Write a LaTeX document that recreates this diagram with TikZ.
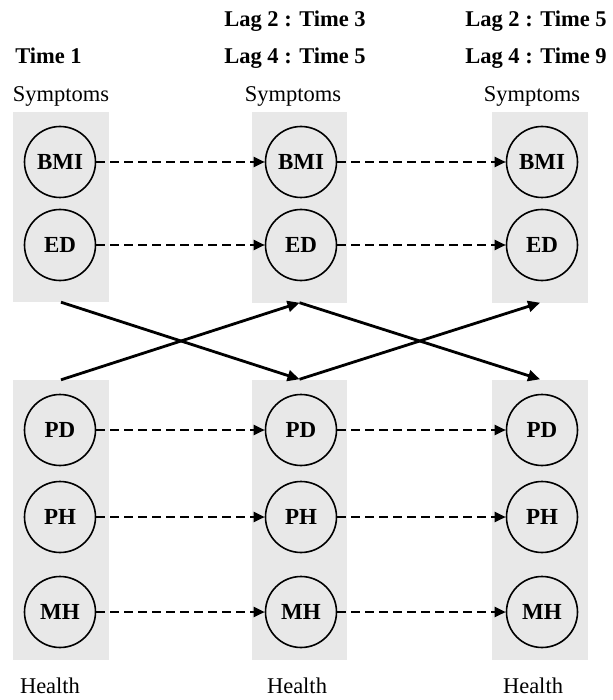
\documentclass[tikz,border=0pt]{standalone}
\usepackage{fontspec}
\setmainfont{Liberation Serif}
\usetikzlibrary{arrows.meta}
\begin{document}
\begin{tikzpicture}[x=1pt,y=1pt,
  greybox/.style={fill=black!9,draw=none,inner sep=0pt},
  var/.style={circle,draw=black,line width=1.6pt,minimum size=71pt,inner sep=0pt,font=\fontsize{23}{24}\selectfont\bfseries},
  head/.style={anchor=base,inner sep=0pt,font=\fontsize{22.5}{24}\selectfont\bfseries},
  lab/.style={anchor=base,inner sep=0pt,font=\fontsize{22.5}{24}\selectfont},
  lagarrow/.style={line width=2.3pt,dash pattern=on 9pt off 5pt,-{Triangle[length=11pt,width=10pt]}},
  crossarrow/.style={line width=2.8pt,-{Triangle[length=12pt,width=11pt]}}]
\useasboundingbox (0,0) rectangle (612,-700);
% boxes
\node[greybox,minimum width=96pt,minimum height=190pt] (s1) at (61,-207) {};
\node[greybox,minimum width=95pt,minimum height=190pt] (s2) at (299.5,-207.5) {};
\node[greybox,minimum width=96pt,minimum height=190pt] (s3) at (540,-207.5) {};
\node[greybox,minimum width=96pt,minimum height=280pt] (h1) at (61,-520) {};
\node[greybox,minimum width=95pt,minimum height=280pt] (h2) at (299.5,-519.5) {};
\node[greybox,minimum width=96pt,minimum height=280pt] (h3) at (540,-519.5) {};
% headings
\node[head] (t1) at (48.5,-64) {Time 1};
\node[head] (t2a) at (295,-27) {Lag 2 : Time 3};
\node[head] (t2b) at (295,-64) {Lag 4 : Time 5};
\node[head] (t3a) at (536,-27) {Lag 2 : Time 5};
\node[head] (t3b) at (536,-64) {Lag 4 : Time 9};
\node[lab] (sy1) at (61,-102) {Symptoms};
\node[lab] (sy2) at (293,-102) {Symptoms};
\node[lab] (sy3) at (532,-102) {Symptoms};
\node[lab] (he1) at (50,-693) {Health};
\node[lab] (he2) at (297,-693) {Health};
\node[lab] (he3) at (533,-693) {Health};
% variables
\foreach \c/\x in {1/60,2/301,3/542}{
  \node[var] (BMI\c) at (\x,-162) {BMI};
  \node[var] (ED\c) at (\x,-245) {ED};
  \node[var] (PD\c) at (\x,-430) {PD};
  \node[var] (PH\c) at (\x,-517) {PH};
  \node[var] (MH\c) at (\x,-612) {MH};
}
% lagged paths
\foreach \v in {BMI,ED,PD,PH,MH}{
  \draw[lagarrow] (\v1) -- (\v2);
  \draw[lagarrow] (\v2) -- (\v3);
}
% cross-lagged paths
\draw[crossarrow] (s1.south) -- (h2.north);
\draw[crossarrow] (h1.north) -- (s2.south);
\draw[crossarrow] (s2.south) -- (h3.north);
\draw[crossarrow] (h2.north) -- (s3.south);
\end{tikzpicture}
\end{document}
